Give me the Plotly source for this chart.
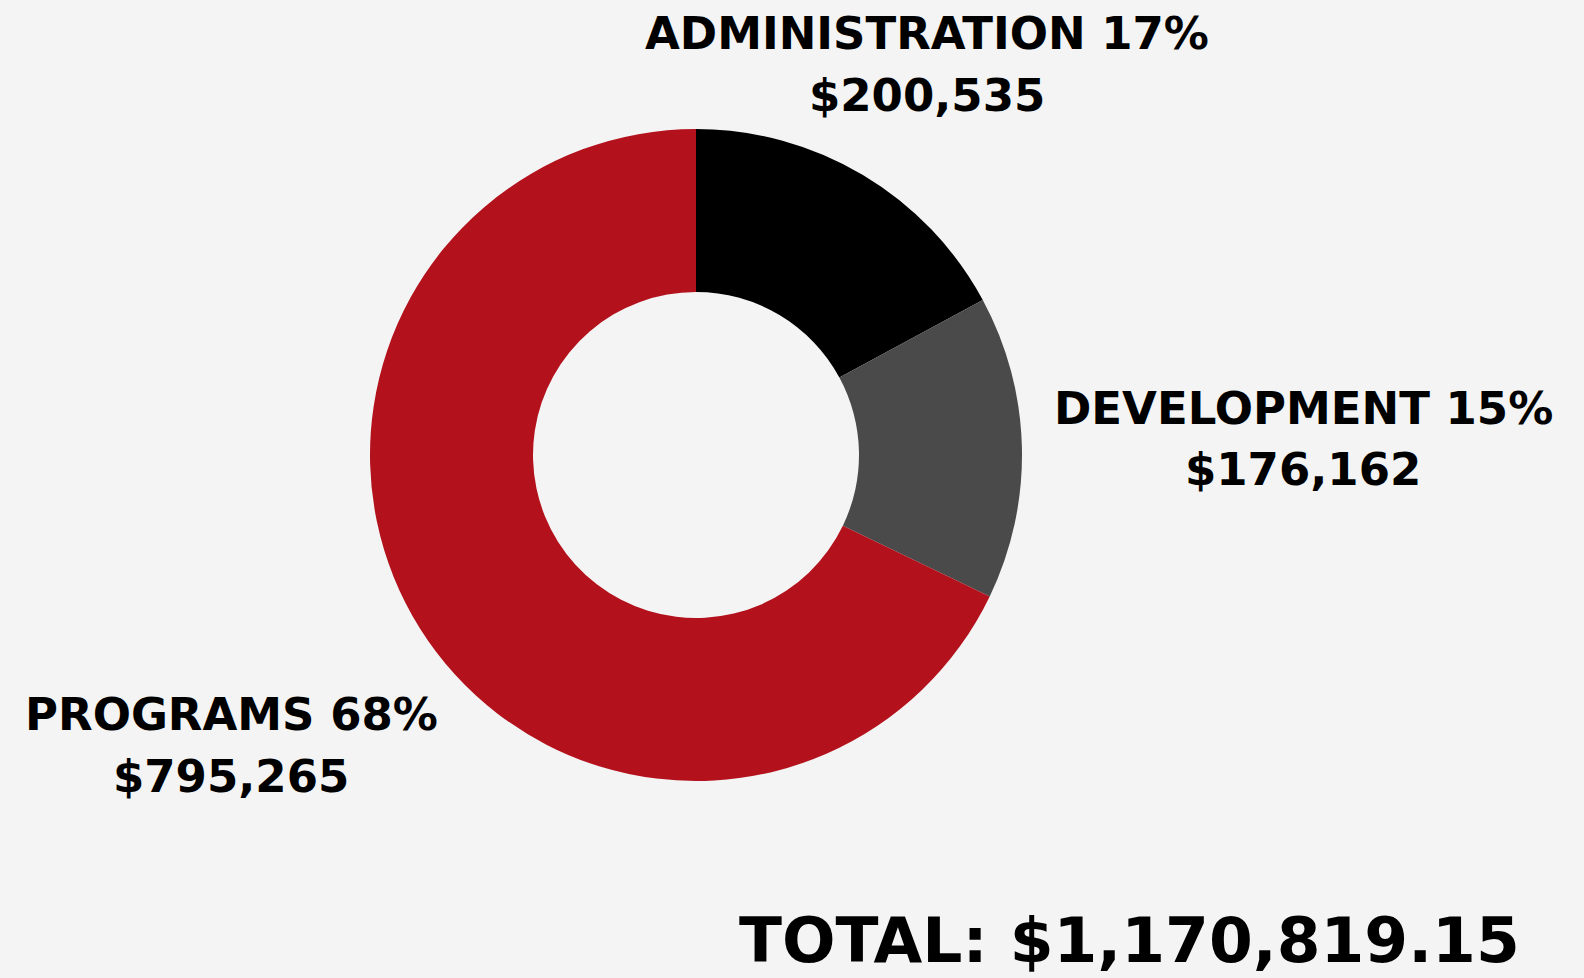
"""Donut chart of expense split with total."""

import plotly.graph_objects as go

# Data
categories = ["ADMINISTRATION", "DEVELOPMENT", "PROGRAMS"]
amounts = [200535, 176162, 795265]
percent_labels = ["17%", "15%", "68%"]
total_label = "TOTAL: $1,170,819.15"

SLICE_COLOURS = ["#000000", "#4a4a4a", "#b3121d"]
BG = "#f4f4f4"
FONT = "DejaVu Sans"

# label anchor (paper coords) for each category: two lines, name+pct and amount
LABEL_POS = {
    "ADMINISTRATION": (927 / 1584, 1 - 33 / 978, 1 - 96 / 978),
    "DEVELOPMENT": (1303 / 1584, 1 - 408 / 978, 1 - 470 / 978),
    "PROGRAMS": (231 / 1584, 1 - 714 / 978, 1 - 776 / 978),
}

fig = go.Figure()
fig.add_trace(
    go.Pie(
        labels=categories,
        values=amounts,
        hole=0.5,
        sort=False,
        direction="clockwise",
        rotation=0,
        marker=dict(colors=SLICE_COLOURS, line=dict(width=0)),
        textinfo="none",
        hoverinfo="label+value+percent",
        showlegend=False,
        domain=dict(x=[370 / 1584, 1022 / 1584], y=[197 / 978, 849 / 978]),
    )
)

for cat, amt, pct in zip(categories, amounts, percent_labels):
    x, y1, y2 = LABEL_POS[cat]
    for text, y in ((f"{cat} {pct}", y1), (f"${amt:,}", y2)):
        fig.add_annotation(
            x=x, y=y, xref="paper", yref="paper",
            text=f"<b>{text}</b>", showarrow=False,
            xanchor="center", yanchor="middle",
            font=dict(family=FONT, size=45, color="#000000"),
        )

fig.add_annotation(
    x=1129 / 1584, y=1 - 940 / 978, xref="paper", yref="paper",
    text=f"<b>{total_label}</b>", showarrow=False,
    xanchor="center", yanchor="middle",
    font=dict(family=FONT, size=63, color="#000000"),
)

fig.update_layout(
    width=1584,
    height=978,
    margin=dict(l=0, r=0, t=0, b=0),
    paper_bgcolor=BG,
    plot_bgcolor=BG,
)

# drop the page's default body margin so the figure sits flush in the window
fig.write_html(
    "out.html",
    config={"displayModeBar": False},
    post_script="document.body.style.margin='0';document.body.style.background='%s';" % BG,
)
